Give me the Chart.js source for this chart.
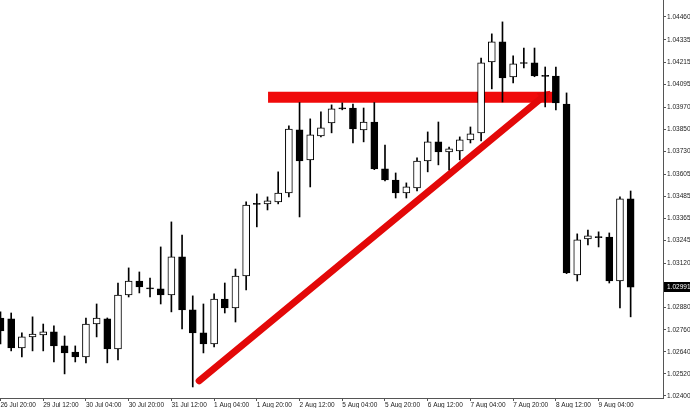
<!DOCTYPE html>
<html>
<head>
<meta charset="utf-8">
<script src="https://cdn.jsdelivr.net/npm/chart.js@4.4.1/dist/chart.umd.min.js"></script>
<style>
  html, body { margin: 0; padding: 0; background: #fff; }
  #wrap { width: 690px; height: 408px; }
</style>
</head>
<body>
<div id="wrap"><canvas id="myChart" width="690" height="408"></canvas></div>
<script>
// H4 candles
const opens = [
  1.02824, 1.02819, 1.02661, 1.02721, 1.02732, 1.02748, 1.02672, 1.02639, 1.02612, 1.02791,
  1.02819, 1.02656, 1.02949, 1.03025, 1.02987, 1.02982, 1.02949, 1.03156, 1.02868, 1.02743,
  1.02683, 1.02927, 1.02878, 1.03052, 1.03444, 1.03444, 1.03455, 1.03503, 1.03846, 1.03683,
  1.03813, 1.03884, 1.03965, 1.03965, 1.03846, 1.03889, 1.03634, 1.03574, 1.03503, 1.03531,
  1.03677, 1.03781, 1.03726, 1.03732, 1.03792, 1.03830, 1.04215, 1.04324, 1.04134, 1.04210,
  1.04210, 1.04139, 1.04139, 1.03987, 1.03058, 1.03253, 1.03264, 1.03264, 1.03025, 1.03471
];
const highs = [
  1.02857, 1.02851, 1.02743, 1.02830, 1.02791, 1.02781, 1.02726, 1.02672, 1.02824, 1.02900,
  1.02824, 1.03014, 1.03096, 1.03074, 1.03041, 1.03210, 1.03346, 1.03275, 1.02944, 1.02900,
  1.02955, 1.03014, 1.03090, 1.03455, 1.03498, 1.03482, 1.03618, 1.03868, 1.03995, 1.03906,
  1.03944, 1.03982, 1.03993, 1.03987, 1.03965, 1.03995, 1.03764, 1.03612, 1.03558, 1.03694,
  1.03835, 1.03889, 1.03753, 1.03808, 1.03862, 1.04237, 1.04368, 1.04433, 1.04248, 1.04291,
  1.04291, 1.04188, 1.04188, 1.04047, 1.03281, 1.03302, 1.03292, 1.03286, 1.03482, 1.03514
];
const lows = [
  1.02683, 1.02645, 1.02612, 1.02645, 1.02645, 1.02585, 1.02520, 1.02585, 1.02580, 1.02721,
  1.02580, 1.02596, 1.02938, 1.02960, 1.02938, 1.02900, 1.02857, 1.02764, 1.02449, 1.02634,
  1.02666, 1.02851, 1.02802, 1.02976, 1.03319, 1.03411, 1.03444, 1.03482, 1.03373, 1.03536,
  1.03808, 1.03830, 1.03955, 1.03775, 1.03781, 1.03630, 1.03569, 1.03476, 1.03476, 1.03514,
  1.03618, 1.03656, 1.03628, 1.03683, 1.03775, 1.03786, 1.04069, 1.03998, 1.04101, 1.04183,
  1.04135, 1.03971, 1.03955, 1.03065, 1.03025, 1.03221, 1.03210, 1.03014, 1.02878, 1.02830
];
const closes = [
  1.02753, 1.02661, 1.02721, 1.02737, 1.02748, 1.02672, 1.02634, 1.02612, 1.02791, 1.02824,
  1.02656, 1.02949, 1.03025, 1.02993, 1.02982, 1.02949, 1.03156, 1.02868, 1.02743, 1.02683,
  1.02927, 1.02878, 1.03052, 1.03438, 1.03441, 1.03460, 1.03503, 1.03851, 1.03677, 1.03819,
  1.03857, 1.03960, 1.03960, 1.03851, 1.03889, 1.03634, 1.03574, 1.03503, 1.03536, 1.03677,
  1.03781, 1.03726, 1.03743, 1.03792, 1.03824, 1.04210, 1.04324, 1.04128, 1.04205, 1.04207,
  1.04139, 1.04137, 1.03993, 1.03069, 1.03248, 1.03270, 1.03261, 1.03025, 1.03471, 1.02991
];

// one time label every 4 candles
const timeLabels = [
  '26 Jul 20:00', '29 Jul 12:00', '30 Jul 04:00', '30 Jul 20:00', '31 Jul 12:00',
  '1 Aug 04:00', '1 Aug 20:00', '2 Aug 12:00', '5 Aug 04:00', '5 Aug 20:00',
  '6 Aug 12:00', '7 Aug 04:00', '7 Aug 20:00', '8 Aug 12:00', '9 Aug 04:00'
];
const labelEvery = 4;

const priceTicks = [
  1.02400, 1.02520, 1.02640, 1.02760, 1.02880, 1.03120, 1.03245, 1.03365, 1.03485,
  1.03605, 1.03730, 1.03850, 1.03970, 1.04095, 1.04215, 1.04335, 1.04460
];

// drawn annotations (candle index, price)
const resistanceLine = [{ x: 25.05, y: 1.04023 }, { x: 51.75, y: 1.04023 }];
const trendArrow = [{ x: 18.6, y: 1.02482 }, { x: 50.9, y: 1.04031 }];

const wickData = highs.map((h, i) => ({ x: i, y: [lows[i], h] }));
const bodyData = opens.map((o, i) => ({ x: i, y: [o, closes[i]] }));
const bodyColors = opens.map((o, i) => closes[i] >= o ? '#ffffff' : '#000000');

const lastPriceBox = {
  id: 'lastPriceBox',
  afterDraw(chart) {
    const ctx = chart.ctx;
    const y = chart.scales.y.getPixelForValue(closes[closes.length - 1]);
    const left = chart.chartArea.right + 1;
    ctx.save();
    ctx.fillStyle = '#000';
    ctx.fillRect(left, Math.round(y) - 5, chart.width - left, 10);
    ctx.fillStyle = '#fff';
    ctx.font = '6.5px "Liberation Sans"';
    ctx.textBaseline = 'middle';
    ctx.fillText(closes[closes.length - 1].toFixed(5), left + 3, Math.round(y));
    ctx.restore();
  }
};

function noPadding(scale) {
  scale.paddingLeft = 0;
  scale.paddingRight = 0;
  scale.paddingTop = 0;
  scale.paddingBottom = 0;
}

const ctx = document.getElementById('myChart').getContext('2d');
new Chart(ctx, {
  data: {
    datasets: [
      {
        type: 'line',
        data: resistanceLine,
        borderColor: '#f00a0a',
        borderWidth: 11,
        borderCapStyle: 'butt',
        pointRadius: 0,
        order: 5
      },
      {
        type: 'line',
        data: trendArrow,
        borderColor: '#e30808',
        borderWidth: 7,
        borderCapStyle: 'round',
        pointStyle: 'triangle',
        pointRadius: [0, 8],
        pointRotation: 50,
        pointBackgroundColor: '#e30808',
        pointBorderWidth: 0,
        order: 4
      },
      {
        type: 'bar',
        data: wickData,
        backgroundColor: '#000',
        borderWidth: 0,
        barThickness: 1,
        grouped: false,
        order: 3
      },
      {
        type: 'bar',
        data: bodyData,
        backgroundColor: bodyColors,
        borderColor: '#000',
        borderWidth: 1,
        borderSkipped: false,
        barThickness: 7,
        minBarLength: 1,
        grouped: false,
        order: 2
      }
    ]
  },
  options: {
    responsive: false,
    animation: false,
    devicePixelRatio: 1,
    layout: { padding: 0, autoPadding: false },
    plugins: {
      legend: { display: false },
      tooltip: { enabled: false }
    },
    scales: {
      x: {
        type: 'linear',
        offset: false,
        min: -0.047,
        max: 62.03,
        afterBuildTicks: (scale) => {
          scale.ticks = timeLabels.map((_, k) => ({ value: k * labelEvery }));
        },
        afterFit: (scale) => { scale.height = 10; noPadding(scale); },
        grid: { drawOnChartArea: false, tickLength: 3, color: '#555', offset: false },
        border: { color: '#555' },
        ticks: {
          autoSkip: false,
          maxRotation: 0,
          align: 'start',
          padding: 0,
          color: '#222',
          font: { family: 'Liberation Sans', size: 6.5 },
          callback: (value) => timeLabels[value / labelEvery]
        }
      },
      y: {
        type: 'linear',
        position: 'right',
        min: 1.02389,
        max: 1.04552,
        afterBuildTicks: (scale) => {
          scale.ticks = priceTicks.map(v => ({ value: v }));
        },
        afterFit: (scale) => { scale.width = 27; noPadding(scale); },
        grid: { drawOnChartArea: false, tickLength: 3, color: '#555' },
        border: { color: '#555' },
        ticks: {
          autoSkip: false,
          padding: 1,
          color: '#222',
          font: { family: 'Liberation Sans', size: 6.5 },
          callback: (value) => value.toFixed(5)
        }
      }
    }
  },
  plugins: [lastPriceBox]
});
</script>
</body>
</html>
